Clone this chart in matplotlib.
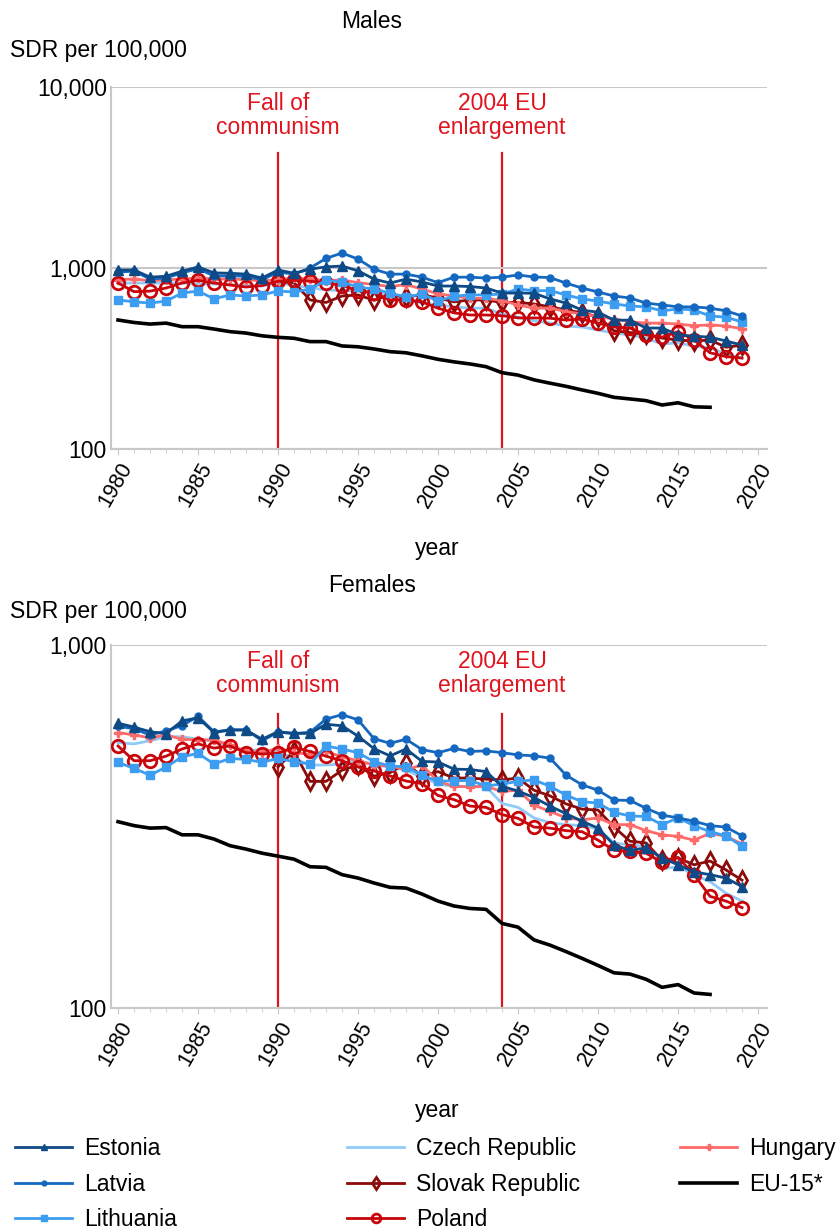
import matplotlib
matplotlib.use('Agg')
import matplotlib.pyplot as plt
from matplotlib.ticker import FuncFormatter, FixedLocator, NullLocator

plt.rcParams['font.family'] = ['Liberation Sans', 'DejaVu Sans']

years = list(range(1980, 2020))
years_svk = list(range(1990, 2020))
years_eu = list(range(1980, 2018))

# Males, SDR per 100,000
est_m = [975, 975, 890, 900, 960, 1013, 940, 935, 925, 880, 975, 935, 985, 1015, 1025, 965, 868, 826, 868, 837,
         795, 795, 790, 775, 727, 727, 725, 675, 640, 585, 570, 515, 515, 466, 466, 427, 420, 415, 395, 375]
lat_m = [950, 960, 870, 880, 940, 990, 905, 905, 900, 860, 950, 925, 1000, 1130, 1210, 1120, 985, 925, 925, 890,
         830, 890, 890, 880, 890, 915, 892, 885, 825, 775, 737, 700, 683, 640, 625, 610, 610, 600, 580, 543]
lit_m = [666, 650, 640, 656, 727, 746, 675, 710, 700, 710, 746, 737, 765, 855, 837, 785, 765, 727, 690, 718,
         656, 700, 710, 710, 718, 765, 750, 750, 710, 675, 656, 633, 617, 610, 580, 594, 586, 543, 535, 503]
cze_m = [826, 826, 826, 826, 826, 816, 816, 810, 800, 795, 830, 800, 780, 756, 750, 745, 720, 710, 665, 640,
         625, 610, 600, 600, 557, 535, 510, 497, 478, 472, 455, 437, 427, 410, 380, 386, 370, 362, 335, 318]
hun_m = [860, 870, 850, 860, 870, 880, 870, 870, 860, 850, 860, 880, 870, 850, 860, 830, 810, 790, 810, 765,
         720, 700, 680, 680, 660, 625, 600, 600, 575, 556, 540, 522, 505, 496, 496, 490, 480, 485, 478, 462]
pol_m = [826, 740, 745, 775, 826, 855, 826, 805, 785, 800, 845, 855, 845, 830, 800, 750, 730, 666, 666, 650,
         600, 565, 550, 550, 545, 530, 530, 528, 516, 522, 496, 472, 466, 427, 415, 445, 400, 340, 324, 318]
svk_m = [840, 830, 666, 645, 700, 710, 663, 710, 693, 710,
         683, 650, 666, 666, 645, 645, 633, 610, 586, 565, 538, 450, 440, 430, 410, 400, 395, 400, 365, 375]
eu_m = [516, 500, 490, 496, 474, 474, 460, 445, 437, 422, 414, 409, 392, 392, 371, 367, 357, 345, 340, 327,
        313, 303, 295, 285, 264, 256, 241, 231, 222, 212, 203, 193, 189, 185, 175, 180, 171, 170]

# Females, SDR per 100,000
est_f = [609, 594, 577, 570, 618, 630, 574, 583, 583, 550, 577, 571, 571, 605, 599, 561, 518, 495, 517, 478,
         476, 455, 454, 448, 408, 396, 380, 360, 343, 327, 313, 281, 272, 276, 259, 248, 237, 233, 228, 216]
lat_f = [597, 588, 565, 580, 600, 636, 576, 584, 584, 545, 575, 570, 575, 625, 643, 622, 552, 536, 550, 515,
         505, 519, 509, 511, 505, 498, 495, 488, 438, 412, 398, 374, 373, 355, 340, 334, 327, 318, 315, 298]
lit_f = [475, 457, 438, 461, 492, 503, 470, 487, 484, 475, 487, 477, 470, 527, 517, 505, 477, 464, 462, 438,
         421, 423, 423, 409, 414, 421, 425, 408, 386, 370, 367, 346, 338, 337, 320, 334, 318, 306, 298, 279]
cze_f = [538, 534, 545, 559, 559, 550, 543, 525, 509, 516, 509, 487, 467, 467, 470, 482, 467, 461, 452, 432,
         414, 408, 407, 407, 366, 357, 334, 324, 320, 318, 311, 285, 281, 279, 242, 245, 233, 223, 207, 197]
hun_f = [574, 565, 555, 565, 550, 548, 548, 530, 510, 505, 520, 505, 500, 509, 492, 480, 467, 464, 454, 467,
         421, 408, 407, 408, 395, 398, 362, 348, 334, 330, 334, 320, 320, 308, 300, 297, 290, 303, 297, 283]
pol_f = [527, 480, 480, 494, 517, 534, 520, 527, 505, 501, 503, 523, 509, 494, 480, 461, 450, 436, 422, 415,
         385, 375, 360, 357, 341, 333, 315, 313, 308, 306, 290, 272, 270, 267, 252, 260, 233, 203, 197, 189]
svk_f = [462, 509, 421, 421, 452, 467, 435, 445, 472, 435,
         448, 430, 430, 427, 425, 430, 398, 384, 365, 353, 351, 315, 288, 285, 255, 259, 248, 254, 240, 225]
eu_f = [326, 318, 313, 314, 300, 300, 292, 280, 274, 267, 262, 257, 245, 244, 233, 228, 221, 215, 214, 206,
        197, 191, 188, 187, 171, 167, 154, 149, 143, 137, 131, 125, 124, 120, 114, 116, 110, 109]

# стили серий: цвет, маркер, размер, заливка, zorder
styles = {
    'Estonia': ('#0d4a86', '^', 7, None, 9),
    'Latvia': ('#1468c0', 'o', 5, None, 8),
    'Lithuania': ('#3d9df0', 's', 6, None, 7),
    'Czech Republic': ('#8fcaf8', None, 0, None, 3),
    'Slovak Republic': ('#8b0a0a', 'd', 9, 'none', 4),
    'Poland': ('#c8050a', 'o', 9, 'none', 6),
    'Hungary': ('#ff6b6b', 'P', 6, None, 5),
    'EU-15*': ('black', None, 0, None, 2),
}

males = {'Estonia': est_m, 'Latvia': lat_m, 'Lithuania': lit_m, 'Czech Republic': cze_m,
         'Slovak Republic': svk_m, 'Poland': pol_m, 'Hungary': hun_m, 'EU-15*': eu_m}
females = {'Estonia': est_f, 'Latvia': lat_f, 'Lithuania': lit_f, 'Czech Republic': cze_f,
           'Slovak Republic': svk_f, 'Poland': pol_f, 'Hungary': hun_f, 'EU-15*': eu_f}

fig = plt.figure(figsize=(8.4, 12.29), dpi=100)
ax_m = fig.add_axes([111 / 840, 1 - 449 / 1229, 656 / 840, 362 / 1229])
ax_f = fig.add_axes([111 / 840, 1 - 1008 / 1229, 656 / 840, 363 / 1229])

red = '#e0141e'
grid_c = '#c8c8c8'
fs = 16.5


def draw(ax, data, ylims, yticks, line_top):
    for name, vals in data.items():
        col, mk, ms, fc, zo = styles[name]
        if name == 'EU-15*':
            xs = years_eu
        elif name == 'Slovak Republic':
            xs = years_svk
        else:
            xs = years
        lw = 2.6 if name == 'EU-15*' else 2
        ax.plot(xs, vals, color=col, lw=lw, marker=mk, markersize=ms,
                markerfacecolor=(fc if fc else col), markeredgecolor=col,
                markeredgewidth=(2 if fc else 1), label=name, zorder=zo)
    ax.set_yscale('log')
    ax.set_ylim(*ylims)
    ax.set_xlim(1979.56, 2020.56)
    ax.yaxis.set_major_locator(FixedLocator(yticks))
    ax.yaxis.set_minor_locator(NullLocator())
    ax.yaxis.set_major_formatter(FuncFormatter(lambda v, p: f'{int(v):,}'))
    ax.set_xticks(range(1980, 2021, 5))
    ax.set_xticks(range(1980, 2021), minor=True)
    ax.set_xticklabels([str(y) for y in range(1980, 2021, 5)], rotation=60,
                       ha='right', va='top', rotation_mode='anchor')
    ax.tick_params(axis='y', length=0, labelsize=fs, pad=3)
    ax.tick_params(axis='x', which='major', length=4, color=grid_c, labelsize=15.5, pad=3)
    ax.tick_params(axis='x', which='minor', length=3, color=grid_c)
    ax.grid(axis='y', color=grid_c, lw=1.5, zorder=0)
    for s in ['top', 'right']:
        ax.spines[s].set_visible(False)
    for s in ['left', 'bottom']:
        ax.spines[s].set_color(grid_c)
        ax.spines[s].set_linewidth(1.5)

    # события
    for yr, txt in [(1990, 'Fall of\ncommunism'), (2004, '2004 EU\nenlargement')]:
        ax.axvline(yr, ymin=0, ymax=line_top, color=red, lw=1.6, zorder=1)
        ax.text(yr, 0.922, txt, transform=ax.get_xaxis_transform(), color=red,
                ha='center', va='center', fontsize=fs, linespacing=1.05)


draw(ax_m, males, (100, 10000), [100, 1000, 10000], 0.818)
draw(ax_f, females, (100, 1000), [100, 1000], 0.81)

fig.text(372 / 840, 1 - 22 / 1229, 'Males', ha='center', va='center', fontsize=fs)
fig.text(10 / 840, 1 - 50 / 1229, 'SDR per 100,000', ha='left', va='center', fontsize=fs)
fig.text(437 / 840, 1 - 548 / 1229, 'year', ha='center', va='center', fontsize=fs)
fig.text(372 / 840, 1 - 585 / 1229, 'Females', ha='center', va='center', fontsize=fs)
fig.text(10 / 840, 1 - 611 / 1229, 'SDR per 100,000', ha='left', va='center', fontsize=fs)
fig.text(437 / 840, 1 - 1110 / 1229, 'year', ha='center', va='center', fontsize=fs)

# легенда: три колонки с фиксированными позициями
h, l = ax_m.get_legend_handles_labels()
hd = dict(zip(l, h))
columns = [(['Estonia', 'Latvia', 'Lithuania'], 15),
           (['Czech Republic', 'Slovak Republic', 'Poland'], 347),
           (['Hungary', 'EU-15*'], 680)]
for names, x0 in columns:
    leg = fig.legend([hd[n] for n in names], names, loc='upper left',
                     bbox_to_anchor=(x0 / 840, 1 - 1137 / 1229), frameon=False, fontsize=fs,
                     handlelength=2.5, labelspacing=0.55, markerscale=0.7,
                     borderaxespad=0, borderpad=0, handletextpad=0.5)

fig.savefig('out.png', dpi=100)
